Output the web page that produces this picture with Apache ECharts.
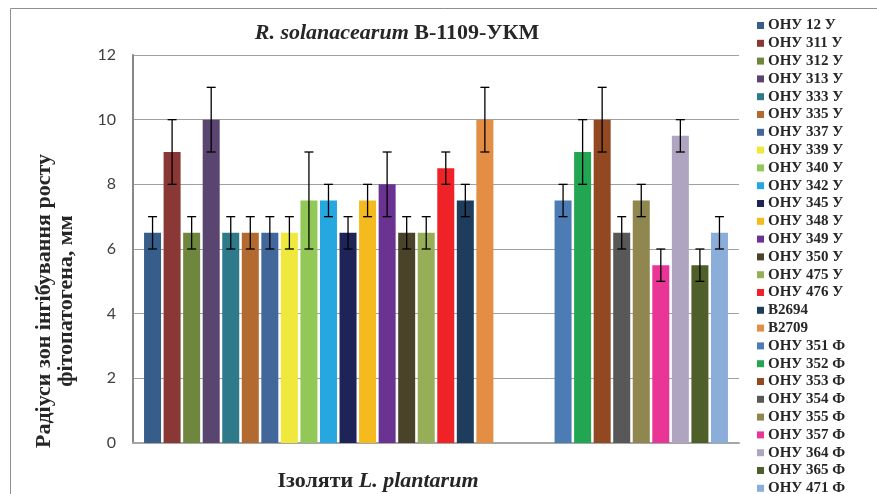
<!DOCTYPE html>
<html>
<head>
<meta charset="utf-8">
<script src="https://cdn.jsdelivr.net/npm/echarts@6/dist/echarts.min.js"></script>
<style>
  html, body { margin: 0; padding: 0; background: #fff; }
  #main { width: 877px; height: 494px; }
</style>
</head>
<body>
<div id="main"></div>
<script>
// ізоляти (назви серій)
const names = ['ОНУ 12 У', 'ОНУ 311 У', 'ОНУ 312 У', 'ОНУ 313 У', 'ОНУ 333 У', 'ОНУ 335 У',
  'ОНУ 337 У', 'ОНУ 339 У', 'ОНУ 340 У', 'ОНУ 342 У', 'ОНУ 345 У', 'ОНУ 348 У', 'ОНУ 349 У',
  'ОНУ 350 У', 'ОНУ 475 У', 'ОНУ 476 У', 'B2694', 'B2709',
  'ОНУ 351 Ф', 'ОНУ 352 Ф', 'ОНУ 353 Ф', 'ОНУ 354 Ф', 'ОНУ 355 Ф', 'ОНУ 357 Ф',
  'ОНУ 364 Ф', 'ОНУ 365 Ф', 'ОНУ 471 Ф']
// позиції стовпчиків (3 порожні місця між групами)
const slots = [1, 2, 3, 4, 5, 6, 7, 8, 9, 10, 11, 12, 13, 14, 15, 16, 17, 18,
  22, 23, 24, 25, 26, 27, 28, 29, 30]
// радіуси зон, мм
const values = [6.5, 9, 6.5, 10, 6.5, 6.5, 6.5, 6.5, 7.5, 7.5, 6.5, 7.5, 8, 6.5, 6.5, 8.5, 7.5, 10,
  7.5, 9, 10, 6.5, 7.5, 5.5, 9.5, 5.5, 6.5]
// похибки
const errors = [0.5, 1, 0.5, 1, 0.5, 0.5, 0.5, 0.5, 1.5, 0.5, 0.5, 0.5, 1, 0.5, 0.5, 0.5, 0.5, 1,
  0.5, 1, 1, 0.5, 0.5, 0.5, 0.5, 0.5, 0.5]
const colors = ['#375d8a', '#8a3835', '#6f863e', '#59456f', '#2e7a8a', '#b36a30',
  '#41679b', '#efe93d', '#92c858', '#27a7df', '#1e2358', '#f5ba1d', '#6a3391',
  '#4a432a', '#96ae58', '#ee2227', '#1e3d5c', '#e48d45',
  '#4d7bb3', '#22a652', '#924820', '#585858', '#8f8650', '#e93595',
  '#afa5c0', '#4f5f2a', '#8aadd9']

const serif = '"Liberation Serif", "DejaVu Serif", serif'

const chart = echarts.init(document.getElementById('main'))

const barSeries = names.map((name, i) => ({
  name: name,
  type: 'bar',
  data: [[slots[i], values[i]]],
  barWidth: 17,
  barGap: '-100%',
  itemStyle: { color: colors[i] },
  emphasis: { disabled: true },
}))

const errorSeries = {
  name: 'err',
  type: 'custom',
  z: 10,
  data: names.map((n, i) => [slots[i], values[i], errors[i]]),
  renderItem: (params, api) => {
    const x = api.value(0)
    const v = api.value(1)
    const e = api.value(2)
    const top = api.coord([x, v + e])
    const bot = api.coord([x, v - e])
    const hw = 4.5
    const style = { stroke: '#000', lineWidth: 1.3 }
    return {
      type: 'group',
      children: [
        { type: 'line', shape: { x1: top[0], y1: top[1], x2: bot[0], y2: bot[1] }, style },
        { type: 'line', shape: { x1: top[0] - hw, y1: top[1], x2: top[0] + hw, y2: top[1] }, style },
        { type: 'line', shape: { x1: bot[0] - hw, y1: bot[1], x2: bot[0] + hw, y2: bot[1] }, style },
      ],
    }
  },
}

const richTitle = {
  i: { fontFamily: serif, fontSize: 22, fontWeight: 'bold', fontStyle: 'italic', fill: '#262626' },
  b: { fontFamily: serif, fontSize: 22, fontWeight: 'bold', fill: '#262626' },
}

chart.setOption({
  animation: false,
  grid: { left: 133, right: 138, top: 55, bottom: 51 },
  legend: {
    data: names,
    orient: 'vertical',
    left: 757,
    top: 18,
    height: 600,
    padding: 0,
    itemWidth: 7,
    itemHeight: 7,
    itemGap: 2.8,
    icon: 'rect',
    selectedMode: false,
    textStyle: { fontFamily: serif, fontWeight: 'bold', fontSize: 15, color: '#262626', padding: [0, 0, 0, -1] },
  },
  xAxis: {
    type: 'value',
    min: 0,
    max: 31,
    axisLine: { show: true, lineStyle: { color: '#a6a6a6', width: 2 } },
    axisTick: { show: false },
    axisLabel: { show: false },
    splitLine: { show: false },
  },
  yAxis: {
    type: 'value',
    min: 0,
    max: 12,
    interval: 2,
    axisLine: { show: true, lineStyle: { color: '#888', width: 2 } },
    axisTick: { show: false },
    axisLabel: { fontFamily: 'Lato, "Open Sans", sans-serif', fontSize: 16, color: '#404040', margin: 17 },
    splitLine: { lineStyle: { color: '#a0a0a0', width: 1 } },
  },
  graphic: [
    {
      type: 'rect',
      shape: { x: 10.5, y: 8.5, width: 900, height: 600 },
      style: { fill: 'none', stroke: '#8f8f8f', lineWidth: 1 },
      silent: true,
    },
    {
      type: 'text',
      x: 397,
      y: 33,
      style: {
        text: '{i|R. solanacearum }{b|B-1109-УКМ}',
        align: 'center',
        verticalAlign: 'middle',
        rich: richTitle,
      },
    },
    {
      type: 'text',
      x: 378,
      y: 481,
      style: {
        text: '{b|Ізоляти }{i|L. plantarum}',
        align: 'center',
        verticalAlign: 'middle',
        rich: richTitle,
      },
    },
    {
      type: 'text',
      x: 44,
      y: 301,
      rotation: Math.PI / 2,
      style: {
        text: 'Радіуси зон інгібування росту',
        align: 'center',
        verticalAlign: 'middle',
        font: 'bold 22px ' + serif,
        fill: '#262626',
      },
    },
    {
      type: 'text',
      x: 66,
      y: 301,
      rotation: Math.PI / 2,
      style: {
        text: 'фітопатогена, мм',
        align: 'center',
        verticalAlign: 'middle',
        font: 'bold 22px ' + serif,
        fill: '#262626',
      },
    },
  ],
  series: barSeries.concat([errorSeries]),
})
</script>
</body>
</html>
